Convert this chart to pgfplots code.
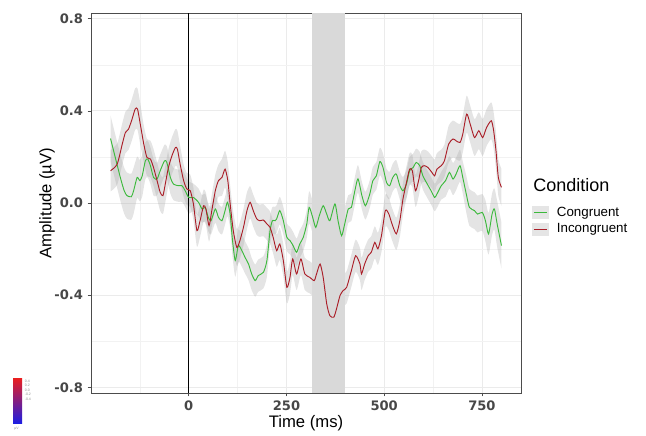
\documentclass[border=0pt]{standalone}
\usepackage{pgfplots}
\pgfplotsset{compat=1.18}
\usepackage{pgfplotstable}
\usepgfplotslibrary{fillbetween}
\usepackage{fontspec}
\setmainfont{Liberation Sans}
\newfontfamily\tickfont{DejaVu Sans}
\definecolor{cgreen}{RGB}{60,185,60}
\definecolor{cred}{RGB}{170,30,40}

\pgfplotstableread{
t v e
-200 0.280 0.10
-175 0.111 0.10
-165 0.053 0.10
-158 0.032 0.10
-147 0.027 0.10
-141 0.053 0.10
-132 0.111 0.09
-125 0.097 0.09
-119 0.118 0.09
-111 0.183 0.08
-105 0.191 0.08
-98 0.162 0.08
-90 0.111 0.08
-81 0.104 0.07
-73 0.140 0.07
-62 0.183 0.07
-56 0.176 0.07
-47 0.111 0.07
-39 0.082 0.07
-26 0.075 0.07
-17 0.075 0.07
-9 0.053 0.07
0 0.024 0.07
12 0.024 0.06
25 0.003 0.06
34 -0.026 0.06
42 -0.019 0.06
50 -0.062 0.06
57 -0.077 0.06
68 -0.026 0.06
76 -0.062 0.06
85 -0.077 0.06
93 -0.033 0.06
99 0.003 0.06
106 -0.048 0.06
112 -0.163 0.07
119 -0.250 0.07
127 -0.185 0.07
136 -0.207 0.07
144 -0.236 0.07
153 -0.265 0.07
161 -0.308 0.07
170 -0.337 0.07
178 -0.315 0.07
191 -0.301 0.07
200 -0.250 0.07
208 -0.120 0.06
214 -0.077 0.06
221 -0.077 0.06
225 -0.069 0.06
233 -0.033 0.06
242 -0.077 0.06
251 -0.149 0.06
259 -0.163 0.06
267 -0.185 0.06
276 -0.214 0.06
284 -0.178 0.06
293 -0.149 0.06
302 -0.091 0.06
308 -0.019 0.07
317 -0.062 0.07
325 -0.106 0.07
334 -0.055 0.07
344 -0.012 0.07
353 -0.048 0.07
361 -0.077 0.07
374 -0.004 0.07
382 -0.077 0.07
391 -0.142 0.07
399 -0.091 0.07
408 -0.026 0.06
416 -0.019 0.06
425 0.053 0.06
433 0.105 0.06
443 0.032 0.06
452 -0.012 0.06
463 0.038 0.06
471 0.097 0.06
480 0.118 0.06
489 0.180 0.06
497 0.154 0.06
506 0.089 0.06
514 0.075 0.06
522 0.111 0.06
531 0.126 0.06
540 0.075 0.06
548 0.053 0.06
557 0.082 0.06
565 0.140 0.06
574 0.154 0.06
582 0.176 0.06
591 0.162 0.06
599 0.118 0.06
608 0.089 0.06
620 0.053 0.06
629 0.024 0.06
635 0.039 0.06
646 0.075 0.06
657 0.097 0.07
667 0.133 0.07
676 0.104 0.07
684 0.126 0.07
694 0.162 0.07
701 0.111 0.07
710 0.039 0.08
718 -0.019 0.08
731 -0.033 0.08
739 -0.048 0.08
751 -0.041 0.08
759 -0.077 0.09
767 -0.134 0.09
776 -0.048 0.09
782 -0.026 0.09
789 -0.091 0.10
800 -0.185 0.10
}\greentab

\pgfplotstableread{
t v e
-200 0.140 0.09
-183 0.169 0.09
-170 0.256 0.09
-162 0.306 0.09
-154 0.321 0.09
-145 0.364 0.09
-137 0.408 0.09
-131 0.408 0.09
-124 0.343 0.09
-115 0.256 0.08
-107 0.198 0.08
-98 0.191 0.08
-90 0.154 0.08
-81 0.097 0.08
-73 0.046 0.08
-66 0.032 0.08
-60 0.082 0.08
-52 0.154 0.08
-43 0.205 0.08
-34 0.241 0.08
-29 0.234 0.08
-22 0.169 0.08
-13 0.097 0.07
-5 0.061 0.07
4 0.053 0.07
12 -0.004 0.07
21 -0.120 0.07
29 -0.077 0.07
38 -0.012 0.07
44 -0.026 0.07
52 -0.098 0.07
59 -0.033 0.07
68 0.053 0.07
76 0.097 0.07
85 0.111 0.08
93 0.147 0.08
100 0.097 0.08
106 -0.004 0.08
114 -0.120 0.08
123 -0.193 0.08
131 -0.163 0.08
140 -0.106 0.08
149 -0.033 0.08
157 0.003 0.07
165 -0.033 0.07
174 -0.069 0.07
182 -0.077 0.07
191 -0.074 0.07
200 -0.091 0.07
208 -0.106 0.07
216 -0.149 0.07
225 -0.207 0.07
233 -0.178 0.07
242 -0.250 0.07
251 -0.366 0.07
259 -0.323 0.07
266 -0.243 0.07
276 -0.308 0.07
287 -0.243 0.07
297 -0.308 0.07
310 -0.323 0.07
321 -0.337 0.07
327 -0.308 0.07
336 -0.265 0.07
344 -0.323 0.07
353 -0.438 0.08
361 -0.489 0.08
371 -0.496 0.08
378 -0.460 0.08
387 -0.402 0.08
395 -0.380 0.07
404 -0.366 0.07
416 -0.294 0.07
427 -0.229 0.07
438 -0.265 0.07
442 -0.308 0.07
450 -0.265 0.07
459 -0.229 0.07
467 -0.214 0.07
476 -0.171 0.07
484 -0.199 0.07
493 -0.142 0.07
503 -0.033 0.07
512 -0.048 0.07
520 -0.091 0.07
531 -0.134 0.07
540 -0.077 0.07
548 0.017 0.07
557 0.089 0.07
565 0.147 0.07
572 0.140 0.07
580 0.053 0.07
588 0.097 0.07
595 0.154 0.07
603 0.162 0.07
612 0.154 0.07
622 0.133 0.07
629 0.118 0.07
635 0.147 0.07
646 0.162 0.07
654 0.183 0.07
665 0.256 0.08
676 0.278 0.08
684 0.270 0.08
694 0.263 0.08
701 0.299 0.08
711 0.386 0.08
720 0.343 0.08
731 0.284 0.08
742 0.314 0.08
752 0.284 0.08
762 0.328 0.08
774 0.357 0.08
780 0.314 0.08
786 0.227 0.08
792 0.111 0.08
800 0.068 0.08
}\redtab

\begin{document}
\begin{tikzpicture}[x=1pt,y=1pt]
\path (0,0) rectangle (484.5,325.5);
\begin{axis}[
  at={(68.25pt,30.75pt)}, anchor=south west,
  scale only axis, width=322.5pt, height=285pt,
  xmin=-250, xmax=850, ymin=-0.825, ymax=0.825,
  clip mode=individual,
  xtick={0,250,500,750}, minor xtick={-125,125,375,625},
  ytick={-0.8,-0.4,0,0.4,0.8}, yticklabels={-0.8,-0.4,0.0,0.4,0.8},
  minor ytick={-0.6,-0.2,0.2,0.6},
  grid=both,
  major grid style={color=black!8, line width=0.6pt},
  minor grid style={color=black!5, line width=0.4pt},
  tick align=outside, tick pos=left,
  major tick length=2.5pt, minor tick length=0pt,
  tick style={black!70, line width=0.5pt},
  axis line style={black!70, line width=0.5pt},
  /pgf/number format/assume math mode=true,
  ticklabel style={font=\tickfont\bfseries\fontsize{9.8}{11}\selectfont, text=black!72},
  xlabel={Time (ms)}, ylabel={Amplitude (µV)},
  label style={font=\fontsize{12.5}{14}\selectfont},
  xlabel style={at={(rel axis cs:0.5,0)}, anchor=center, yshift=-22.5pt},
  ylabel style={at={([xshift=-33pt]rel axis cs:0,0.5)}, anchor=center},
  legend style={at={(1.0256,0.497)}, anchor=north west, draw=none, fill=none,
    inner sep=0pt, outer sep=0pt, row sep=0pt,
    font=\fontsize{10}{11}\selectfont,
    /tikz/every odd column/.append style={column sep=4pt}},
  legend cell align=left,
  legend image code/.code={\fill[black!10] (0pt,-4.5pt) rectangle (12pt,4.5pt);
    \draw[#1] (1pt,0pt) -- (11pt,0pt);},
]
\addplot[fill=black!15, draw=none, forget plot] coordinates {(315,-0.825) (400,-0.825) (400,0.825) (315,0.825)} -- cycle;

\addplot[name path=gu, draw=none, forget plot, smooth, tension=0.4] table[x=t, y expr=\thisrow{v}+\thisrow{e}] {\greentab};
\addplot[name path=gl, draw=none, forget plot, smooth, tension=0.4] table[x=t, y expr=\thisrow{v}-\thisrow{e}] {\greentab};
\addplot[fill=gray!70, fill opacity=0.3, draw=none, forget plot] fill between[of=gu and gl];
\addplot[name path=ru, draw=none, forget plot, smooth, tension=0.4] table[x=t, y expr=\thisrow{v}+\thisrow{e}] {\redtab};
\addplot[name path=rl, draw=none, forget plot, smooth, tension=0.4] table[x=t, y expr=\thisrow{v}-\thisrow{e}] {\redtab};
\addplot[fill=gray!70, fill opacity=0.3, draw=none, forget plot] fill between[of=ru and rl];

\addplot[black, line width=0.5pt, forget plot] coordinates {(0,-0.825) (0,0.825)};

\addplot[cgreen, line width=0.7pt, smooth, tension=0.4] table[x=t, y=v] {\greentab};
\addlegendentry{Congruent}
\addplot[cred, line width=0.7pt, smooth, tension=0.4] table[x=t, y=v] {\redtab};
\addlegendentry{Incongruent}

\node[anchor=west, inner sep=0pt, font=\fontsize{13.5}{15}\selectfont] at (rel axis cs:1.028,0.547) {Condition};
\end{axis}
% small colour scale in the lower left corner
\shade[top color={rgb,255:red,235;green,30;blue,30}, middle color=white, bottom color={rgb,255:red,30;green,30;blue,225}] (9.75,8.25) rectangle (16.5,42);
\begin{scope}[every node/.style={anchor=west, inner sep=0pt, font=\fontsize{2.6}{3}\selectfont, text=black!45}]
\node at (18.5,39.75) {0.4};
\node at (18.5,36.5) {0.2};
\node at (18.5,33) {0.0};
\node at (18.5,29.5) {-0.2};
\node at (18.5,26.25) {-0.4};
\node at (10.5,3.75) {µV};
\end{scope}
\end{tikzpicture}
\end{document}
